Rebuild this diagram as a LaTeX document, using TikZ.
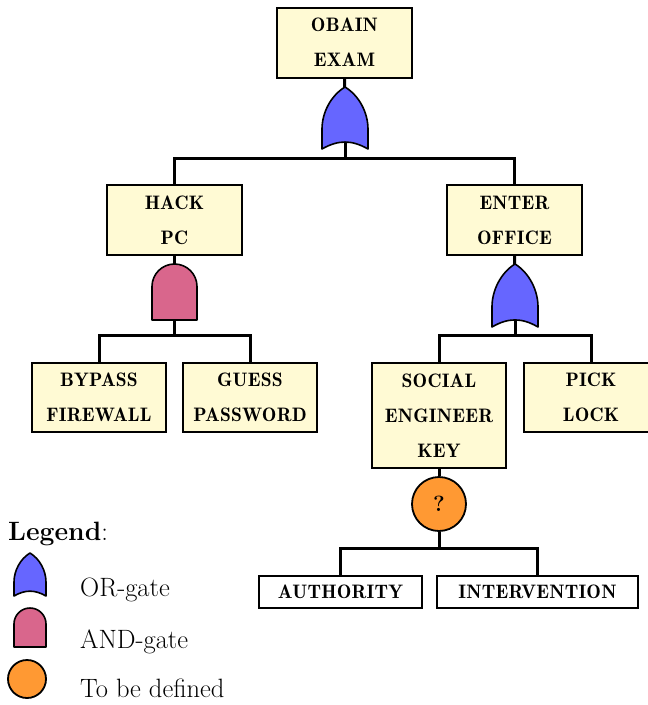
\documentclass[tikz,border=0pt]{standalone}
\usepackage{fontspec}
\newfontfamily\capsfont[LetterSpace=1]{lmromandemi10-regular.otf}
\definecolor{cream}{RGB}{255,250,212}
\definecolor{orblue}{RGB}{102,102,255}
\definecolor{andpink}{RGB}{217,102,140}
\definecolor{tbdorange}{RGB}{255,153,51}

% OR gate drawn inside the box of node #1, width #2, height #3 (y axis points down):
% straight lower sides, pointed-arch top, concave base
\newcommand\orgate[3]{\draw[gateline, fill=orblue, shift={(#1.south west)}]
  (0,0) -- (0,{-0.32*#3})
  .. controls (0,{-0.32*#3-0.357*#2}) and ({0.19*#2},{-0.86*#3}) .. ({0.5*#2},{-#3})
  .. controls ({0.81*#2},{-0.86*#3}) and ({#2},{-0.32*#3-0.357*#2}) .. ({#2},{-0.32*#3})
  -- ({#2},0)
  .. controls ({0.65*#2},{-0.15*#3}) and ({0.35*#2},{-0.15*#3}) .. cycle;}

% AND gate: straight sides with a round top
\newcommand\andgate[3]{\draw[gateline, fill=andpink, shift={(#1.south west)}]
  (0,0) -- (0,{-(#3-0.5*#2)})
  .. controls (0,{-(#3-0.5*#2)-0.2762*#2}) and ({0.2238*#2},{-#3}) .. ({0.5*#2},{-#3})
  .. controls ({0.7762*#2},{-#3}) and ({#2},{-(#3-0.5*#2)-0.2762*#2}) .. ({#2},{-(#3-0.5*#2)})
  -- ({#2},0) -- cycle;}

\begin{document}
\begin{tikzpicture}[x=1pt,y=-1pt,
  evt/.style={draw=black, line width=2pt, fill=cream, inner sep=0pt, align=center,
    minimum width=135pt, minimum height=70pt,
    font=\capsfont\fontsize{19.5}{35}\selectfont},
  leaf/.style={draw=black, line width=2pt, fill=white, inner sep=0pt,
    minimum height=32pt, font=\capsfont\fontsize{19.5}{21}\selectfont},
  gatebox/.style={inner sep=0pt, outer sep=0pt, minimum width=46pt, minimum height=62pt},
  tbd/.style={circle, draw=black, line width=1.8pt, fill=tbdorange, inner sep=0pt,
    minimum size=54pt, font=\bfseries\fontsize{22}{22}\selectfont},
  conn/.style={line width=3pt},
  gateline/.style={draw=black, line width=1.6pt, line join=round},
  legtext/.style={anchor=base west, inner sep=0pt, font=\fontsize{26.5}{30}\selectfont}]

\useasboundingbox (0,0) rectangle (648,705);

% events
\node[evt] (obain) at (344.5,42.5) {OBAIN\\EXAM};
\node[gatebox] (g0) at (345,118) {};
\node[evt] (hack) at (174.5,220) {HACK\\PC};
\node[evt] (enter) at (514.5,220) {ENTER\\OFFICE};
\node[gatebox, minimum width=45pt, minimum height=56pt] (g1) at (174.5,292) {};
\node[gatebox, minimum height=63pt] (g2) at (515,295.5) {};
\node[evt, minimum width=134pt, minimum height=69pt] (bypass) at (99,397.5) {BYPASS\\FIREWALL};
\node[evt, minimum width=134pt, minimum height=69pt] (guess) at (250,397.5) {GUESS\\PASSWORD};
\node[evt, minimum width=134pt, minimum height=105pt] (social) at (439,415.5) {SOCIAL\\ENGINEER\\KEY};
\node[evt, minimum width=134pt, minimum height=69pt] (pick) at (591,397) {PICK\\LOCK};
\node[tbd] (q) at (439,504) {?};
\node[leaf, minimum width=163pt] (auth) at (340.5,592) {AUTHORITY};
\node[leaf, minimum width=201pt] (interv) at (537.5,592) {INTERVENTION};

% tree connectors
\draw[conn] (obain.south) -- (g0.center);
\draw[conn] (g0.center) -- ([yshift=-9pt]g0.south) -| (hack.north);
\draw[conn] ([yshift=-9pt]g0.south) -| (enter.north);
\draw[conn] (hack.south) -- (g1.center);
\draw[conn] (g1.center) -- ([yshift=-15pt]g1.south) -| (bypass.north);
\draw[conn] ([yshift=-15pt]g1.south) -| (guess.north);
\draw[conn] (enter.south) -- (g2.center);
\draw[conn] (g2.center) -- ([yshift=-8pt]g2.south) -| (social.north);
\draw[conn] ([yshift=-8pt]g2.south) -| (pick.north);
\draw[conn] (social.south) -- (q.north);
\draw[conn] (q.south) -- ([yshift=-17pt]q.south) -| (auth.north);
\draw[conn] ([yshift=-17pt]q.south) -| (interv.north);

% gates on top of the connectors
\orgate{g0}{46}{62}
\andgate{g1}{45}{56}
\orgate{g2}{46}{63}

% legend
\node[legtext] (leghead) at (8,540) {\textbf{Legend}:};
\node[gatebox, minimum width=32pt, minimum height=43pt] (lor) at (30,574.5) {};
\orgate{lor}{32}{43}
\node[legtext] (lortext) at (80,596) {OR-gate};
\node[gatebox, minimum width=32pt, minimum height=39pt] (land) at (30,627.5) {};
\andgate{land}{32}{39}
\node[legtext] (landtext) at (80,648) {AND-gate};
\node[tbd, minimum size=38pt] (ltbd) at (27,679) {};
\node[legtext] (ltbdtext) at (80,697) {To be defined};
\end{tikzpicture}
\end{document}
